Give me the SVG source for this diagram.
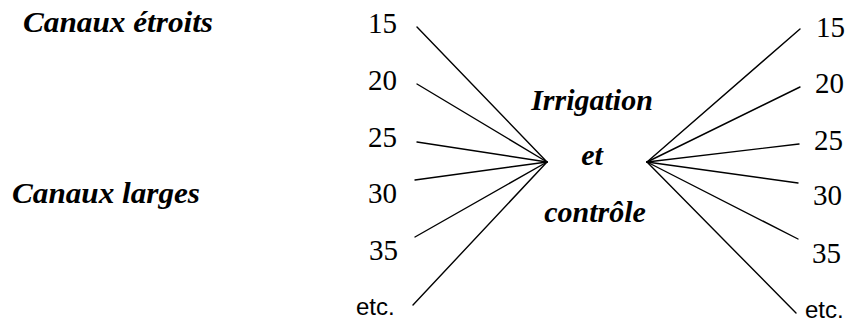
<svg xmlns="http://www.w3.org/2000/svg" width="852" height="322" viewBox="0 0 852 322">
<style>
.lbl{font-family:'Liberation Serif','Times New Roman',serif;font-style:italic;font-weight:bold;font-size:30px;fill:#000}
.num{font-family:'Liberation Serif','Times New Roman',serif;font-size:29px;fill:#000}
.etc{font-family:'Liberation Sans',Arial,sans-serif;font-size:24px;fill:#000}
.ln{stroke:#000;stroke-width:1.4;fill:none;stroke-linecap:round}
</style>
<rect width="852" height="322" fill="#fff"/>
<g id="label-etroits"><text class="lbl" x="23" y="32" textLength="190" lengthAdjust="spacingAndGlyphs">Canaux étroits</text></g>
<g id="label-larges"><text class="lbl" x="12" y="203" textLength="188" lengthAdjust="spacingAndGlyphs">Canaux larges</text></g>
<g id="center">
<text class="lbl" x="592" y="110" text-anchor="middle">Irrigation</text>
<text class="lbl" x="592" y="165" text-anchor="middle">et</text>
<text class="lbl" x="595" y="222" text-anchor="middle">contrôle</text>
</g>
<g id="l15"><text class="num" x="368" y="33">15</text></g>
<g id="l20"><text class="num" x="368" y="90">20</text></g>
<g id="l25"><text class="num" x="368" y="147">25</text></g>
<g id="l30"><text class="num" x="368" y="203">30</text></g>
<g id="l35"><text class="num" x="369" y="260">35</text></g>
<g id="letc"><text class="etc" x="356" y="315">etc.</text></g>
<g id="r15"><text class="num" x="816" y="37">15</text></g>
<g id="r20"><text class="num" x="815" y="93">20</text></g>
<g id="r25"><text class="num" x="814" y="150">25</text></g>
<g id="r30"><text class="num" x="813" y="205">30</text></g>
<g id="r35"><text class="num" x="812" y="263">35</text></g>
<g id="retc"><text class="etc" x="805" y="318">etc.</text></g>
<g id="connectors">
<line class="ln" x1="417" y1="27" x2="547" y2="162"/>
<line class="ln" x1="417" y1="84" x2="547" y2="162"/>
<line class="ln" x1="417" y1="142" x2="547" y2="162"/>
<line class="ln" x1="415" y1="180" x2="547" y2="162"/>
<line class="ln" x1="415" y1="237" x2="547" y2="162"/>
<line class="ln" x1="413" y1="305" x2="547" y2="162"/>
<line class="ln" x1="647" y1="162" x2="800" y2="29"/>
<line class="ln" x1="647" y1="162" x2="800" y2="87"/>
<line class="ln" x1="647" y1="162" x2="799" y2="144"/>
<line class="ln" x1="647" y1="162" x2="798" y2="183"/>
<line class="ln" x1="647" y1="162" x2="798" y2="239"/>
<line class="ln" x1="647" y1="162" x2="796" y2="313"/>
</g>
</svg>
